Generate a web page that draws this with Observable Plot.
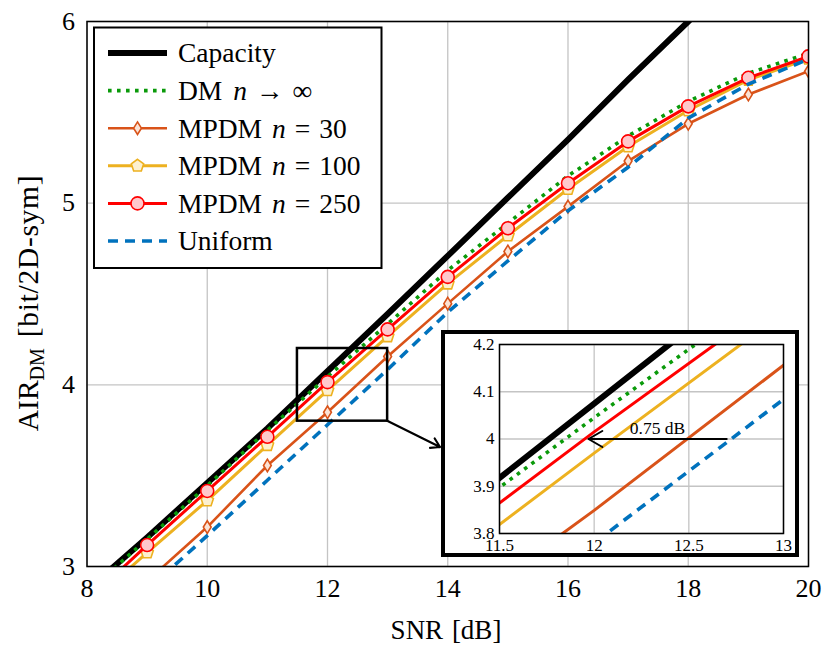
<!DOCTYPE html>
<html><head><meta charset="utf-8">
<script src="https://cdn.jsdelivr.net/npm/d3@7"></script>
<script src="https://cdn.jsdelivr.net/npm/@observablehq/plot@0.6"></script>
<style>
html,body{margin:0;padding:0;background:#fff;}
#wrap{position:relative;width:832px;height:656px;overflow:hidden;}
#inset{position:absolute;left:441px;top:330px;}
</style></head><body><div id="wrap"><div id="main"></div><div id="inset"></div></div>
<script>
// ---- data ----
const snr      = [8, 9, 10, 11, 12, 13, 14, 15, 16, 17, 18, 19, 20];
const capacity = [2.87, 3.16, 3.46, 3.76, 4.075, 4.39, 4.71, 5.03, 5.35, 5.68, 6.00, 6.33, 6.66];
const dmInf    = [2.86, 3.15, 3.445, 3.75, 4.045, 4.335, 4.63, 4.89, 5.15, 5.37, 5.56, 5.715, 5.825];
const mpdm30   = [2.62, 2.92, 3.217, 3.556, 3.849, 4.156, 4.447, 4.734, 4.981, 5.232, 5.437, 5.598, 5.726];
const mpdm100  = [2.78, 3.077, 3.363, 3.668, 3.97, 4.267, 4.557, 4.822, 5.078, 5.312, 5.51, 5.679, 5.795];
const mpdm250  = [2.81, 3.118, 3.416, 3.714, 4.015, 4.305, 4.594, 4.862, 5.11, 5.34, 5.533, 5.69, 5.808];
const uniform  = [2.57, 2.87, 3.17, 3.475, 3.78, 4.084, 4.40, 4.682, 4.958, 5.198, 5.468, 5.655, 5.793];
const xTicks = [8, 10, 12, 14, 16, 18, 20];
const yTicks = [3, 4, 5, 6];
const insetX = [11.5, 13];
const insetY = [3.8, 4.2];
const insetXTicks = [11.5, 12, 12.5, 13];
const insetYTicks = [3.8, 3.9, 4, 4.1, 4.2];
const gapArrow = [{from: 12.7, to: 11.97, level: 4, label: "0.75 dB"}];

// ---- styles ----
const serif = "'Liberation Serif','DejaVu Serif','Times New Roman',serif";
const C = {cap:"#000000", dm:"#0a9a0a", n30:"#d95319", n100:"#edb120", n250:"#ff0000", uni:"#0072bd"};
const pentagon = {draw(ctx, size){ const r = Math.sqrt(size/Math.PI)*1.05;
  for (let i=0;i<5;i++){ const a=-Math.PI/2+i*2*Math.PI/5, x=r*Math.cos(a), y=r*Math.sin(a); i?ctx.lineTo(x,y):ctx.moveTo(x,y);} ctx.closePath(); }};
const thinDiamond = {draw(ctx, size){ const r = Math.sqrt(size/Math.PI); const h=r*1.0, w=r*0.62;
  ctx.moveTo(0,-h); ctx.lineTo(w,0); ctx.lineTo(0,h); ctx.lineTo(-w,0); ctx.closePath(); }};
const circleSym = {draw(ctx, size){ const r = Math.sqrt(size/Math.PI); ctx.moveTo(r,0); ctx.arc(0,0,r,0,2*Math.PI); }};

const series = [
  {key:"cap",  vals:capacity, stroke:C.cap,  width:6,   dash:null},
  {key:"dm",   vals:dmInf,    stroke:C.dm,   width:3.6, dash:"3.6,5.4"},
  {key:"n30",  vals:mpdm30,   stroke:C.n30,  width:2.6, dash:null, sym:thinDiamond, r:6.3, fill:"#fbe3d6"},
  {key:"n100", vals:mpdm100,  stroke:C.n100, width:3,   dash:null, sym:pentagon,    r:6.2, fill:"#fcf0d0"},
  {key:"n250", vals:mpdm250,  stroke:C.n250, width:3,   dash:null, sym:circleSym,   r:6.5, fill:"#ffc8cc"},
  {key:"uni",  vals:uniform,  stroke:C.uni,  width:3.6, dash:"10,7"}
];
const rows = s => snr.map((x,i)=>({snr:x, air:s.vals[i]}));

function curveMarks(withDots, insetMode){
  const m = [];
  for (const s of series){
    m.push(Plot.line(rows(s), {x:"snr", y:"air", stroke:s.stroke,
      strokeWidth: insetMode && s.key==="n30" ? 3 : s.width,
      strokeDasharray:s.dash || undefined, strokeLinejoin:"round",
      strokeLinecap: s.dash ? "butt" : "round", clip:true}));
    if (withDots && s.sym) m.push(Plot.dot(rows(s), {x:"snr", y:"air", symbol:s.sym, r:s.r,
      fill:s.fill, stroke:s.stroke, strokeWidth:1.6, clip:true}));
  }
  return m;
}

// ---- main chart ----
const main = Plot.plot({
  width: 832, height: 656,
  marginLeft: 86.5, marginRight: 24, marginTop: 21, marginBottom: 90,
  style: {fontFamily: serif, fontSize: "26px", background: "white", color: "black"},
  x: {domain: [8, 20], ticks: xTicks, tickSize: 0, tickPadding: 12, tickFormat: d => String(d), label: null},
  y: {domain: [3, 6], ticks: yTicks, tickSize: 0, tickPadding: 12, tickFormat: d => String(d), label: null},
  marks: [
    Plot.ruleX(xTicks, {stroke:"#c4c4c4", strokeWidth:1.3}),
    Plot.ruleY(yTicks, {stroke:"#c4c4c4", strokeWidth:1.3}),
    ...curveMarks(true, false),
    Plot.rect([{x1:insetX[0], x2:insetX[1], y1:insetY[0], y2:insetY[1]}],
      {x1:"x1", x2:"x2", y1:"y1", y2:"y2", fill:"none", stroke:"black", strokeWidth:2.5}),
    Plot.frame({stroke:"black", strokeWidth:1.5})
  ]
});
document.getElementById("main").appendChild(main);
const svg = d3.select(main);
const sx = main.scale("x"), sy = main.scale("y");

// axis labels
svg.append("text").attr("x", 446).attr("y", 639).attr("text-anchor","middle")
  .attr("font-family", serif).attr("font-size", 27).attr("word-spacing", 2).text("SNR [dB]");
const yl = svg.append("text").attr("transform","translate(38,303) rotate(-90)")
  .attr("text-anchor","middle").attr("font-family", serif).attr("font-size", 29.5);
yl.append("tspan").text("AIR");
yl.append("tspan").attr("font-size", 20).attr("dy", 6).text("DM");
yl.append("tspan").attr("dy", -6).attr("dx", 11).attr("letter-spacing", 0.7).text("[bit/2D-sym]");

// connector arrow from zoom box to inset
{
  const x0 = sx.apply(insetX[1]), y0 = sy.apply(insetY[0]);
  const x1 = 440, y1 = 447;
  const a = Math.atan2(y1-y0, x1-x0), L = 10, h = 0.55;
  svg.append("path").attr("fill","none").attr("stroke","black").attr("stroke-width",2.2)
    .attr("stroke-linecap","round").attr("stroke-linejoin","round")
    .attr("d", `M${x0},${y0}L${x1},${y1}M${x1-L*Math.cos(a-h)},${y1-L*Math.sin(a-h)}L${x1},${y1}L${x1-L*Math.cos(a+h)},${y1-L*Math.sin(a+h)}`);
}

// legend
{
  const g = svg.append("g");
  g.append("rect").attr("x",94).attr("y",27.5).attr("width",287.5).attr("height",240.5)
    .attr("fill","white").attr("stroke","black").attr("stroke-width",2);
  // [text, italic?, dx]
  const labels = [
    [["Capacity",0,0]],
    [["DM",0,0],["n",1,11],["\u2192",0,9],["\u221e",0,9]],
    [["MPDM",0,0],["n",1,10],["=",0,9],["30",0,9]],
    [["MPDM",0,0],["n",1,10],["=",0,9],["100",0,9]],
    [["MPDM",0,0],["n",1,10],["=",0,9],["250",0,9]],
    [["Uniform",0,0]]
  ];
  series.forEach((s,i)=>{
    const cy = 53 + i*37.6;
    g.append("line").attr("x1",108).attr("x2",167).attr("y1",cy).attr("y2",cy)
      .attr("stroke",s.stroke).attr("stroke-width",s.width).attr("stroke-dasharray", s.dash || null);
    if (s.sym) g.append("path").attr("transform",`translate(137.5,${cy})`)
      .attr("d", d3.symbol().type(s.sym).size(Math.PI*s.r*s.r)())
      .attr("fill",s.fill).attr("stroke",s.stroke).attr("stroke-width",1.6);
    const t = g.append("text").attr("x",178).attr("y",cy).attr("dy","0.34em")
      .attr("text-anchor","start").attr("font-family",serif).attr("font-size",27.5);
    for (const [txt, it, dx] of labels[i]) {
      const sp = t.append("tspan").attr("dx", dx).text(txt);
      if (it) sp.attr("font-style","italic");
    }
  });
}

// ---- inset ----
const inset = Plot.plot({
  width: 358, height: 227,
  marginLeft: 58, marginRight: 16, marginTop: 14, marginBottom: 24,
  style: {fontFamily: serif, fontSize: "17px", background: "white", color: "black"},
  x: {domain: insetX, ticks: insetXTicks, tickSize: 0, tickPadding: 5.5, tickFormat: d => String(d), label: null},
  y: {domain: insetY, ticks: insetYTicks, tickSize: 0, tickPadding: 5, tickFormat: d => String(d), label: null},
  marks: [
    Plot.ruleX(insetXTicks, {stroke:"#c4c4c4", strokeWidth:1.3}),
    Plot.ruleY(insetYTicks, {stroke:"#c4c4c4", strokeWidth:1.3}),
    ...curveMarks(false, true),
    Plot.arrow(gapArrow, {x1:"from", x2:"to", y1:"level", y2:"level", stroke:"black", strokeWidth:2, headLength:12}),
    Plot.text(gapArrow, {x: d => (d.from + d.to)/2, y:"level", text:"label", dy:-11, fontSize:17.5}),
    Plot.frame({stroke:"black", strokeWidth:1.5})
  ]
});
document.getElementById("inset").appendChild(inset);
d3.select(inset).append("rect").attr("x",2).attr("y",2).attr("width",354).attr("height",223)
  .attr("fill","none").attr("stroke","black").attr("stroke-width",4);
</script></body></html>
